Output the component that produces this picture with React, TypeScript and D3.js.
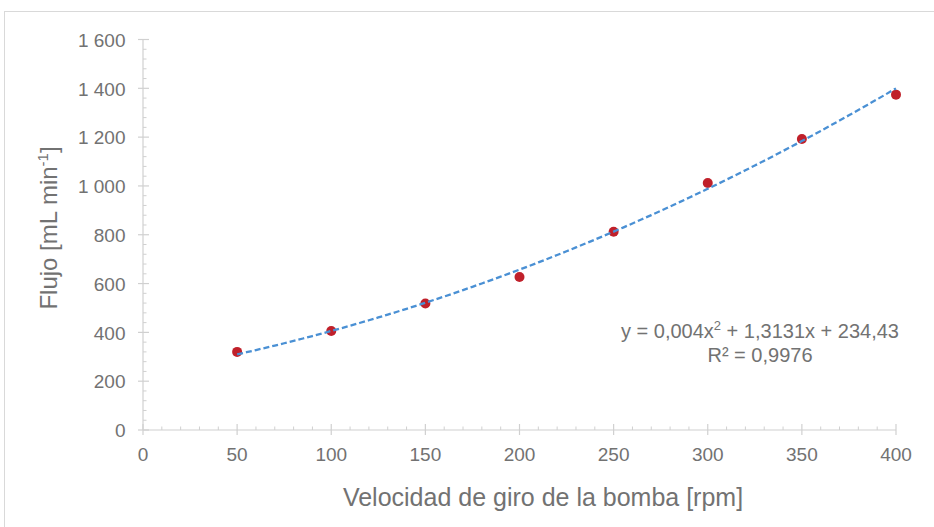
import React from "react";
import * as d3 from "d3";

const speeds = [50, 100, 150, 200, 250, 300, 350, 400];
const flows = [320, 406, 518, 627, 812, 1012, 1192, 1374];
const trendCoef = [0.004, 1.3131, 234.43]; // a, b, c from the chart's trendline label
const xTicks = [0, 50, 100, 150, 200, 250, 300, 350, 400];
const yTicks = [0, 200, 400, 600, 800, 1000, 1200, 1400, 1600];

const W = 934;
const H = 527;
const FONT = "'Liberation Sans', Arial, sans-serif";
const TEXT = "#727272";
const AXIS = "#d0d0d0";

export default function App() {
  const x = d3.scaleLinear().domain([0, 400]).range([143, 896]);
  const y = d3.scaleLinear().domain([0, 1600]).range([430, 39.5]);

  const fmt = (v: number) => {
    const s = String(v);
    return s.length > 3 ? s.slice(0, s.length - 3) + " " + s.slice(-3) : s;
  };

  const trendX = d3.range(50, 400.001, 5);
  const line = d3
    .line<number>()
    .x((d) => x(d))
    .y((d) => y(trendCoef[0] * d * d + trendCoef[1] * d + trendCoef[2]));

  const xMinor = d3.range(0, 401, 10).filter((v) => v % 50 !== 0);
  const yMinor = d3.range(0, 1601, 40).filter((v) => v % 200 !== 0);

  return (
    <svg
      width={W}
      height={H}
      style={{ position: "absolute", left: 0, top: 0, display: "block", background: "#fff" }}
      fontFamily={FONT}
    >
      <rect x={4.5} y={11.5} width={W + 10} height={H + 10} fill="#fff" stroke="#d9d9d9" strokeWidth={1} />

      {/* axes */}
      <line x1={x(0)} x2={x(400)} y1={y(0)} y2={y(0)} stroke={AXIS} strokeWidth={1.2} />
      <line x1={x(0)} x2={x(0)} y1={y(0)} y2={y(1600)} stroke={AXIS} strokeWidth={1.2} />
      {xTicks.map((t) => (
        <line key={"xt" + t} x1={x(t)} x2={x(t)} y1={y(0) - 6} y2={y(0) + 5} stroke={AXIS} strokeWidth={1.2} />
      ))}
      {xMinor.map((t) => (
        <line key={"xm" + t} x1={x(t)} x2={x(t)} y1={y(0) - 3.5} y2={y(0)} stroke={AXIS} strokeWidth={1} />
      ))}
      {yTicks.map((t) => (
        <line key={"yt" + t} x1={x(0) - 5} x2={x(0) + 6} y1={y(t)} y2={y(t)} stroke={AXIS} strokeWidth={1.2} />
      ))}
      {yMinor.map((t) => (
        <line key={"ym" + t} x1={x(0)} x2={x(0) + 3.5} y1={y(t)} y2={y(t)} stroke={AXIS} strokeWidth={1} />
      ))}

      {/* tick labels */}
      {xTicks.map((t) => (
        <text key={"xl" + t} x={x(t)} y={y(0) + 30.5} textAnchor="middle" fontSize={19} fill={TEXT}>
          {t}
        </text>
      ))}
      {yTicks.map((t) => (
        <text key={"yl" + t} x={125.5} y={y(t) + 7.2} textAnchor="end" fontSize={19} fill={TEXT}>
          {fmt(t)}
        </text>
      ))}

      {/* axis titles */}
      <text x={543} y={506} textAnchor="middle" fontSize={25} fill={TEXT}>
        Velocidad de giro de la bomba [rpm]
      </text>
      <text transform="translate(57,228) rotate(-90)" textAnchor="middle" fontSize={24} fill={TEXT}>
        Flujo [mL min<tspan dy={-9} fontSize={15}>-1</tspan>
        <tspan dy={9}>]</tspan>
      </text>

      {/* points */}
      {speeds.map((s, i) => (
        <circle key={"p" + i} cx={x(s)} cy={y(flows[i])} r={5} fill="#c0202a" />
      ))}

      {/* trendline */}
      <path d={line(trendX) || ""} fill="none" stroke="#4a90d4" strokeWidth={2.3} strokeDasharray="6 3" />

      {/* equation */}
      <text x={760} y={338} textAnchor="middle" fontSize={20} fill={TEXT}>
        y = 0,004x<tspan dy={-8} fontSize={13}>2</tspan>
        <tspan dy={8}> + 1,3131x + 234,43</tspan>
      </text>
      <text x={760} y={362} textAnchor="middle" fontSize={20} fill={TEXT}>
        R² = 0,9976
      </text>
    </svg>
  );
}
